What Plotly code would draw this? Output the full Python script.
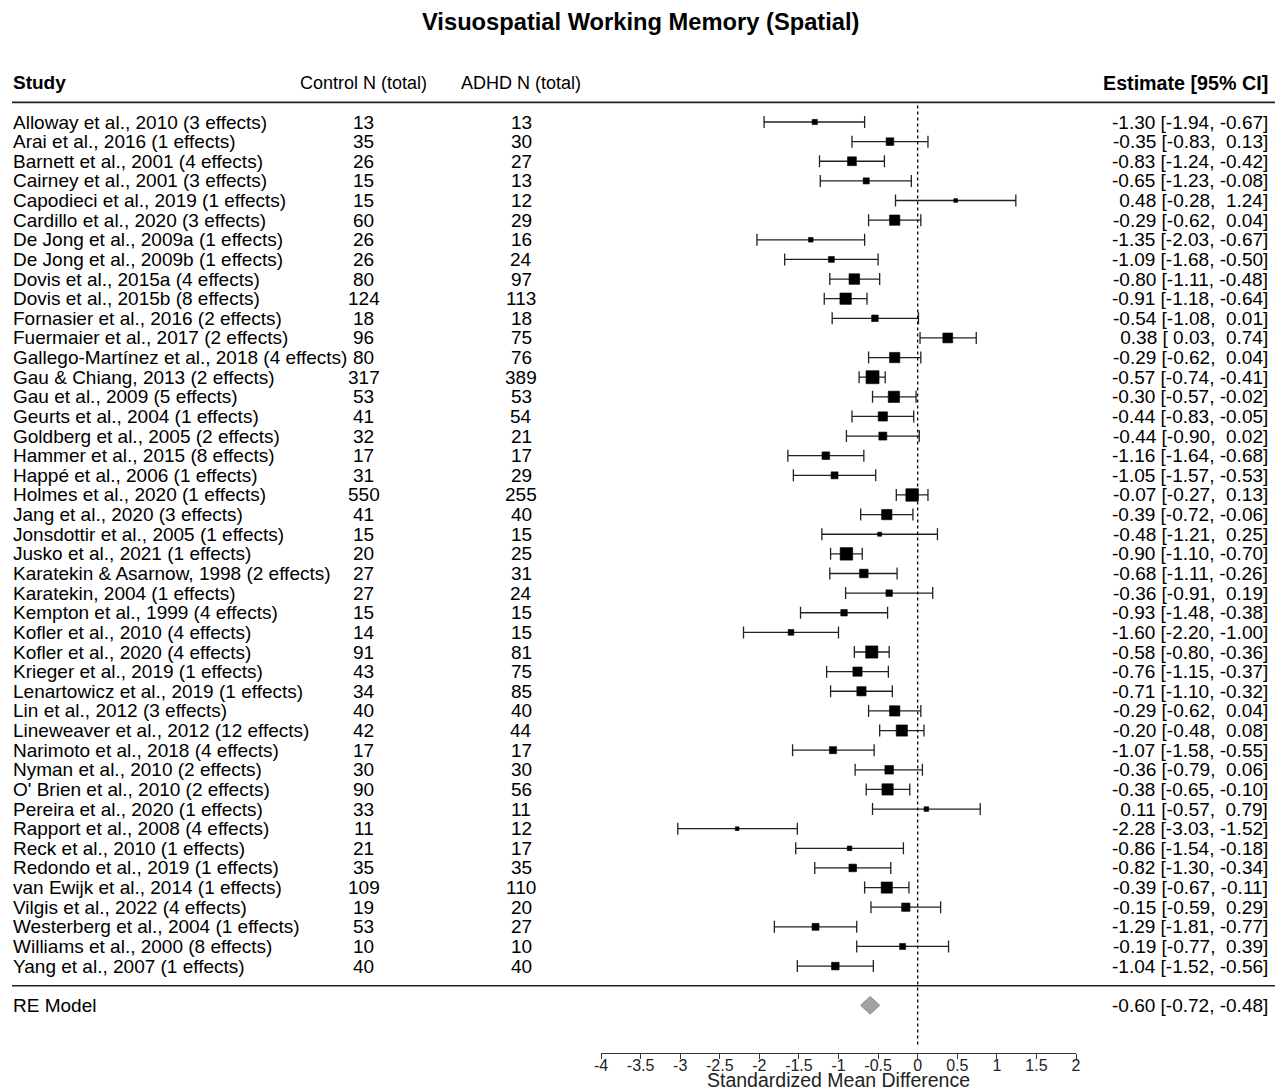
import plotly.graph_objects as go

# ---------------- data ----------------
studies = [
    "Alloway et al., 2010 (3 effects)", "Arai et al., 2016 (1 effects)", "Barnett et al., 2001 (4 effects)",
    "Cairney et al., 2001 (3 effects)", "Capodieci et al., 2019 (1 effects)", "Cardillo et al., 2020 (3 effects)",
    "De Jong et al., 2009a (1 effects)", "De Jong et al., 2009b (1 effects)", "Dovis et al., 2015a (4 effects)",
    "Dovis et al., 2015b (8 effects)", "Fornasier et al., 2016 (2 effects)", "Fuermaier et al., 2017 (2 effects)",
    "Gallego-Martínez et al., 2018 (4 effects)", "Gau & Chiang, 2013 (2 effects)", "Gau et al., 2009 (5 effects)",
    "Geurts et al., 2004 (1 effects)", "Goldberg et al., 2005 (2 effects)", "Hammer et al., 2015 (8 effects)",
    "Happé et al., 2006 (1 effects)", "Holmes et al., 2020 (1 effects)", "Jang et al., 2020 (3 effects)",
    "Jonsdottir et al., 2005 (1 effects)", "Jusko et al., 2021 (1 effects)", "Karatekin & Asarnow, 1998 (2 effects)",
    "Karatekin, 2004 (1 effects)", "Kempton et al., 1999 (4 effects)", "Kofler et al., 2010 (4 effects)",
    "Kofler et al., 2020 (4 effects)", "Krieger et al., 2019 (1 effects)", "Lenartowicz et al., 2019 (1 effects)",
    "Lin et al., 2012 (3 effects)", "Lineweaver et al., 2012 (12 effects)", "Narimoto et al., 2018 (4 effects)",
    "Nyman et al., 2010 (2 effects)", "O' Brien et al., 2010 (2 effects)", "Pereira et al., 2020 (1 effects)",
    "Rapport et al., 2008 (4 effects)", "Reck et al., 2010 (1 effects)", "Redondo et al., 2019 (1 effects)",
    "van Ewijk et al., 2014 (1 effects)", "Vilgis et al., 2022 (4 effects)", "Westerberg et al., 2004 (1 effects)",
    "Williams et al., 2000 (8 effects)", "Yang et al., 2007 (1 effects)",
]
control_n = [13, 35, 26, 15, 15, 60, 26, 26, 80, 124, 18, 96, 80, 317, 53, 41, 32, 17, 31, 550, 41, 15,
             20, 27, 27, 15, 14, 91, 43, 34, 40, 42, 17, 30, 90, 33, 11, 21, 35, 109, 19, 53, 10, 40]
adhd_n = [13, 30, 27, 13, 12, 29, 16, 24, 97, 113, 18, 75, 76, 389, 53, 54, 21, 17, 29, 255, 40, 15,
          25, 31, 24, 15, 15, 81, 75, 85, 40, 44, 17, 30, 56, 11, 12, 17, 35, 110, 20, 27, 10, 40]
estimate = [-1.30, -0.35, -0.83, -0.65, 0.48, -0.29, -1.35, -1.09, -0.80, -0.91, -0.54, 0.38, -0.29, -0.57,
            -0.30, -0.44, -0.44, -1.16, -1.05, -0.07, -0.39, -0.48, -0.90, -0.68, -0.36, -0.93, -1.60, -0.58,
            -0.76, -0.71, -0.29, -0.20, -1.07, -0.36, -0.38, 0.11, -2.28, -0.86, -0.82, -0.39, -0.15, -1.29,
            -0.19, -1.04]
ci_lower = [-1.94, -0.83, -1.24, -1.23, -0.28, -0.62, -2.03, -1.68, -1.11, -1.18, -1.08, 0.03, -0.62, -0.74,
            -0.57, -0.83, -0.90, -1.64, -1.57, -0.27, -0.72, -1.21, -1.10, -1.11, -0.91, -1.48, -2.20, -0.80,
            -1.15, -1.10, -0.62, -0.48, -1.58, -0.79, -0.65, -0.57, -3.03, -1.54, -1.30, -0.67, -0.59, -1.81,
            -0.77, -1.52]
ci_upper = [-0.67, 0.13, -0.42, -0.08, 1.24, 0.04, -0.67, -0.50, -0.48, -0.64, 0.01, 0.74, 0.04, -0.41,
            -0.02, -0.05, 0.02, -0.68, -0.53, 0.13, -0.06, 0.25, -0.70, -0.26, 0.19, -0.38, -1.00, -0.36,
            -0.37, -0.32, 0.04, 0.08, -0.55, 0.06, -0.10, 0.79, -1.52, -0.18, -0.34, -0.11, 0.29, -0.77,
            0.39, -0.56]
re_label = "RE Model"
re_estimate = -0.60
re_lower = -0.72
re_upper = -0.48
x_ticks = [-4, -3.5, -3, -2.5, -2, -1.5, -1, -0.5, 0, 0.5, 1, 1.5, 2]
x_tick_labels = ["-4", "-3.5", "-3", "-2.5", "-2", "-1.5", "-1", "-0.5", "0", "0.5", "1", "1.5", "2"]
title_text = "Visuospatial Working Memory (Spatial)"
header_labels = ["Study", "Control N (total)", "ADHD N (total)", "Estimate [95% CI]"]
x_title = "Standardized Mean Difference"

# ---------------- layout constants ----------------
W, H = 1284, 1090
ROW_PX = 19.63
FONT = "Liberation Sans, Arial, sans-serif"
FS = 19
k = len(studies)
rows = [k - i for i in range(k)]
ymax = k + 122 / ROW_PX
ymin = ymax - H / ROW_PX


def py(p):  # pixel y -> paper y
    return 1 - p / H


def px(p):  # pixel x -> paper x
    return p / W


# point sizes from random-effects style weights
se = [(h - l) / 3.92 for l, h in zip(ci_lower, ci_upper)]
w = [1 / (s * s + 0.1) for s in se]
wmin, wmax = min(w), max(w)
sizes = [3.7 + (wi - wmin) / (wmax - wmin) * (13 - 3.7) for wi in w]

fig = go.Figure()

fig.add_trace(go.Scatter(
    x=estimate, y=rows, mode="markers",
    marker=dict(symbol="square", size=sizes, color="#000000", opacity=1,
                line=dict(width=0.6, color="#000000")),
    error_x=dict(type="data", symmetric=False,
                 array=[h - e for e, h in zip(estimate, ci_upper)],
                 arrayminus=[e - l for e, l in zip(estimate, ci_lower)],
                 color="#222222", thickness=1.3, width=6),
    showlegend=False, hoverinfo="skip",
))

dh = 0.45
fig.add_trace(go.Scatter(
    x=[re_lower, re_estimate, re_upper, re_estimate, re_lower],
    y=[-1, -1 + dh, -1, -1 - dh, -1],
    mode="lines", fill="toself", fillcolor="#a3a3a3",
    line=dict(color="#8a8a8a", width=1), showlegend=False, hoverinfo="skip",
))

shapes = [
    dict(type="line", xref="paper", yref="y", x0=px(12), x1=px(1275), y0=k + 1, y1=k + 1,
         line=dict(color="#222222", width=1.6)),
    dict(type="line", xref="paper", yref="y", x0=px(12), x1=px(1275), y0=0, y1=0,
         line=dict(color="#222222", width=1.6)),
    dict(type="line", xref="x", yref="y", x0=0, x1=0, y0=-3.0, y1=k + 1,
         line=dict(color="black", width=1.3, dash="dot")),
]

X_LEFT, X_CTRL, X_ADHD, X_RIGHT = 11, 364, 521, 1270

NB = "\u00a0"
ann = []
for i in range(k):
    y = rows[i]
    ann.append(dict(x=px(X_LEFT), y=y, xref="paper", yref="y", text=studies[i], showarrow=False,
                    xanchor="left", yanchor="middle", font=dict(size=FS, color="black", family=FONT)))
    ann.append(dict(x=px(X_CTRL), y=y, xref="paper", yref="y", text=str(control_n[i]), showarrow=False,
                    xanchor="center", yanchor="middle", font=dict(size=FS, color="black", family=FONT)))
    ann.append(dict(x=px(X_ADHD), y=y, xref="paper", yref="y", text=str(adhd_n[i]), showarrow=False,
                    xanchor="center", yanchor="middle", font=dict(size=FS, color="black", family=FONT)))
    est_txt = f"{estimate[i]:5.2f} [{ci_lower[i]:5.2f}, {ci_upper[i]:5.2f}]".replace(" ", NB)
    ann.append(dict(x=px(X_RIGHT), y=y, xref="paper", yref="y", text=est_txt, showarrow=False,
                    xanchor="right", yanchor="middle", font=dict(size=FS, color="black", family=FONT)))

# RE model row
ann.append(dict(x=px(X_LEFT), y=-1, xref="paper", yref="y", text=re_label, showarrow=False,
                xanchor="left", yanchor="middle", font=dict(size=FS, color="black", family=FONT)))
re_txt = f"{re_estimate:5.2f} [{re_lower:5.2f}, {re_upper:5.2f}]".replace(" ", NB)
ann.append(dict(x=px(X_RIGHT), y=-1, xref="paper", yref="y", text=re_txt, showarrow=False,
                xanchor="right", yanchor="middle", font=dict(size=FS, color="black", family=FONT)))

# headers
hy = k + 2
ann.append(dict(x=px(X_LEFT), y=hy, xref="paper", yref="y", text="<b>" + header_labels[0] + "</b>",
                showarrow=False, xanchor="left", yanchor="middle",
                font=dict(size=FS, color="black", family=FONT)))
ann.append(dict(x=px(X_CTRL), y=hy, xref="paper", yref="y", text=header_labels[1], showarrow=False,
                xanchor="center", yanchor="middle", font=dict(size=18, color="black", family=FONT)))
ann.append(dict(x=px(X_ADHD), y=hy, xref="paper", yref="y", text=header_labels[2], showarrow=False,
                xanchor="center", yanchor="middle", font=dict(size=18, color="black", family=FONT)))
ann.append(dict(x=px(X_RIGHT), y=hy, xref="paper", yref="y", text="<b>" + header_labels[3] + "</b>",
                showarrow=False, xanchor="right", yanchor="middle",
                font=dict(size=19.7, color="black", family=FONT)))

# title
ann.append(dict(x=px(640), y=py(22), xref="paper", yref="paper", text="<b>" + title_text + "</b>",
                showarrow=False, xanchor="center", yanchor="middle",
                font=dict(size=23.7, color="black", family=FONT)))
# x axis title
ann.append(dict(x=(x_ticks[0] + x_ticks[-1]) / 2, y=py(1080), xref="x", yref="paper", text=x_title,
                showarrow=False, xanchor="center", yanchor="middle",
                font=dict(size=19.5, color="#222222", family=FONT)))

fig.update_layout(
    width=W, height=H, margin=dict(l=0, r=0, t=0, b=0, autoexpand=False),
    paper_bgcolor="white", plot_bgcolor="white",
    shapes=shapes, annotations=ann,
    xaxis=dict(domain=[px(601), px(1076)], range=[x_ticks[0], x_ticks[-1]],
               tickvals=x_ticks, ticktext=x_tick_labels, ticks="outside", ticklen=5, tickwidth=1.2,
               tickcolor="#333333", showline=True, linecolor="#333333", linewidth=1.2,
               showgrid=False, zeroline=False, anchor="free", position=py(1053),
               ticklabelstandoff=-7, automargin=False,
               tickfont=dict(size=16, color="#222222", family=FONT)),
    yaxis=dict(domain=[0, 1], range=[ymin, ymax], visible=False, showgrid=False, zeroline=False,
               automargin=False),
)

fig.write_html("out.html")
